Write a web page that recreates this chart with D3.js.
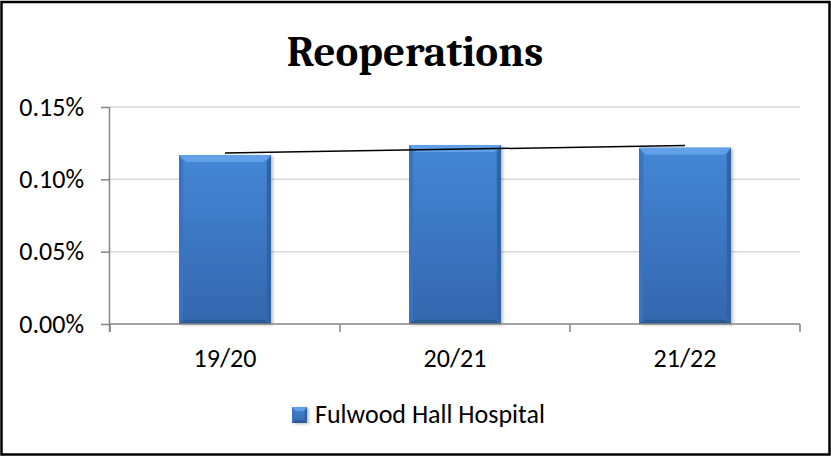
<!DOCTYPE html>
<html lang="en">
<head>
    <meta charset="UTF-8">
    <title>Reoperations</title>
    <style>
        body { margin: 0; background: #fff; }
        svg { display: block; }
    </style>
</head>
<script src="https://d3js.org/d3.v7.min.js" charset="UTF-8"></script>
<body>
<script>

    // data
    var years = ["19/20", "20/21", "21/22"];
    var rates = [0.1168, 0.1237, 0.1219];        // percent
    var yTicks = [0, 0.05, 0.10, 0.15];
    var seriesName = "Fulwood Hall Hospital";
    var chartTitle = "Reoperations";

    var width = 831, height = 456;
    var margin = {top: 107, right: 31, bottom: 132, left: 110};
    var labelFont = "Calibri, Carlito, Lato, sans-serif";

    const svg = d3.select("body")
        .append("svg")
        .attr("width", width)
        .attr("height", height);

    var defs = svg.append("defs");
    var grad = defs.append("linearGradient")
        .attr("id", "barFill")
        .attr("x1", 0).attr("y1", 0).attr("x2", 0).attr("y2", 1);
    grad.append("stop").attr("offset", "0%").attr("stop-color", "#4487d6");
    grad.append("stop").attr("offset", "100%").attr("stop-color", "#3466ad");

    var shadow = defs.append("filter").attr("id", "shadow")
        .attr("x", "-10%").attr("y", "-10%").attr("width", "130%").attr("height", "130%");
    shadow.append("feDropShadow")
        .attr("dx", 2).attr("dy", 1).attr("stdDeviation", 1.5)
        .attr("flood-color", "#000").attr("flood-opacity", 0.25);

    // border of the chart
    svg.append("rect")
        .attr("x", 1.5).attr("y", 2)
        .attr("width", width - 3).attr("height", height - 3.5)
        .attr("fill", "#fff")
        .attr("stroke", "#000")
        .attr("stroke-width", 2.5);

    var x = d3.scaleBand()
        .domain(years)
        .range([margin.left, width - margin.right])
        .padding(0);

    var y = d3.scaleLinear()
        .domain([0, 0.15])
        .range([height - margin.bottom, margin.top]);

    // title
    svg.append("text")
        .attr("x", 415)
        .attr("y", 66)
        .attr("text-anchor", "middle")
        .attr("font-family", "Cambria, 'Liberation Serif', serif")
        .attr("font-weight", "bold")
        .attr("font-size", 43)
        .attr("fill", "#000")
        .text(chartTitle);

    // gridlines
    svg.append("g")
        .selectAll("line")
        .data(yTicks.filter(d => d > 0))
        .join("line")
        .attr("x1", margin.left)
        .attr("x2", width - margin.right)
        .attr("y1", d => y(d))
        .attr("y2", d => y(d))
        .attr("stroke", "#d9d9d9")
        .attr("stroke-width", 1.5);

    // y axis
    var yAxis = svg.append("g")
        .attr("transform", `translate(${margin.left},0)`)
        .call(d3.axisLeft(y).tickValues(yTicks).tickSize(9).tickPadding(17)
            .tickFormat(d => d.toFixed(2) + "%"));
    yAxis.select(".domain").attr("stroke", "#868686").attr("stroke-width", 1.5)
        .attr("d", `M-0.5,${y(0.15)}V${y(0) + 8}`);
    yAxis.selectAll(".tick line").attr("stroke", "#868686").attr("stroke-width", 1.5);
    yAxis.selectAll(".tick text")
        .attr("font-family", labelFont)
        .attr("font-size", 26)
        .attr("fill", "#000");

    // bars
    function bevelBar(g, bx, by, bw, bh, b) {
        g.append("rect")
            .attr("x", bx).attr("y", by).attr("width", bw).attr("height", bh)
            .attr("fill", "url(#barFill)")
            .attr("filter", "url(#shadow)");
        g.append("polygon")
            .attr("points", [[bx, by], [bx + bw, by], [bx + bw - b, by + b], [bx + b, by + b]].join(" "))
            .attr("fill", "#62a1e8");
        g.append("polygon")
            .attr("points", [[bx, by], [bx + b * 0.6, by + b], [bx + b * 0.6, by + bh - b], [bx, by + bh]].join(" "))
            .attr("fill", "#3a74c0");
        g.append("polygon")
            .attr("points", [[bx + bw, by], [bx + bw - b * 0.6, by + b], [bx + bw - b * 0.6, by + bh - b], [bx + bw, by + bh]].join(" "))
            .attr("fill", "#2f63a8");
        g.append("polygon")
            .attr("points", [[bx, by + bh], [bx + bw, by + bh], [bx + bw - b, by + bh - b * 0.6], [bx + b, by + bh - b * 0.6]].join(" "))
            .attr("fill", "#2a5892");
    }

    var barW = x.bandwidth() * 0.4;
    var bars = svg.append("g");
    years.forEach(function (yr, i) {
        var g = bars.append("g");
        var bx = x(yr) + (x.bandwidth() - barW) / 2;
        bevelBar(g, bx, y(rates[i]), barW, y(0) - y(rates[i]), 7);
    });

    // x axis
    var xAxisG = svg.append("g")
        .attr("transform", `translate(0,${y(0)})`);
    xAxisG.append("line")
        .attr("x1", margin.left).attr("x2", width - margin.right)
        .attr("y1", 0).attr("y2", 0)
        .attr("stroke", "#868686").attr("stroke-width", 1.5);
    xAxisG.selectAll("line.tick")
        .data(years.map(d => x(d)).concat([x(years[years.length - 1]) + x.bandwidth()]))
        .join("line")
        .attr("class", "tick")
        .attr("x1", d => d).attr("x2", d => d)
        .attr("y1", 0).attr("y2", 8)
        .attr("stroke", "#868686").attr("stroke-width", 1.5);
    xAxisG.selectAll("text")
        .data(years)
        .join("text")
        .attr("x", d => x(d) + x.bandwidth() / 2)
        .attr("y", 43)
        .attr("text-anchor", "middle")
        .attr("font-family", labelFont)
        .attr("font-size", 26)
        .attr("fill", "#000")
        .text(d => d);

    // linear trendline (least squares over the three years)
    var n = rates.length;
    var mx = d3.mean(d3.range(n)), my = d3.mean(rates);
    var slope = d3.sum(d3.range(n), i => (i - mx) * (rates[i] - my)) / d3.sum(d3.range(n), i => (i - mx) * (i - mx));
    var icpt = my - slope * mx;
    var trend = [0, n - 1].map(i => [x(years[i]) + x.bandwidth() / 2, y(icpt + slope * i)]);
    svg.append("path")
        .attr("d", d3.line()(trend))
        .attr("fill", "none")
        .attr("stroke", "#000")
        .attr("stroke-width", 1.5);

    // legend
    var legend = svg.append("g").attr("transform", "translate(292,407)");
    bevelBar(legend, 0, 0, 15, 16, 4);
    legend.append("text")
        .attr("x", 23)
        .attr("y", 16)
        .attr("font-family", labelFont)
        .attr("font-size", 26)
        .attr("fill", "#000")
        .text(seriesName);

</script>
</body>
</html>
